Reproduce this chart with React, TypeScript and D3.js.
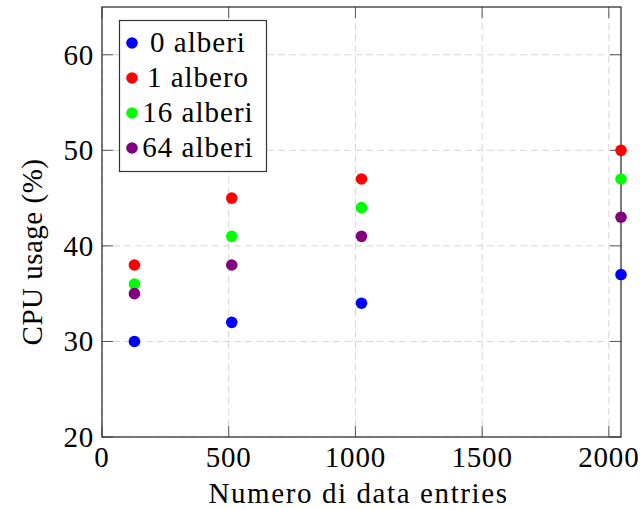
import React from 'react';
import * as d3 from 'd3';

const entries = [128, 512, 1024, 2048];
const seriesNames = ['0 alberi', '1 albero', '16 alberi', '64 alberi'];
const seriesColors = ['#0000ff', '#ff0000', '#00ff00', '#800080'];
const alberi0 = [30, 32, 34, 37];
const albero1 = [38, 45, 47, 50];
const alberi16 = [36, 41, 44, 47];
const alberi64 = [35, 38, 41, 43];
const seriesValues = [alberi0, albero1, alberi16, alberi64];
const xTicks = [0, 500, 1000, 1500, 2000];
const yTicks = [20, 30, 40, 50, 60];

const width = 640;
const height = 510;
const margin = { left: 102, right: 19, top: 7, bottom: 73 };
const fontSize = 29;
const txt = { fontFamily: "'Liberation Serif', serif", fontSize };

const x = d3.scaleLinear().domain([0, 2048]).range([margin.left, width - margin.right]);
const y = d3.scaleLinear().domain([20, 65]).range([height - margin.bottom, margin.top]);

const tickLen = 11;

const App = () => {
    const [x0, x1] = x.range();
    const [y0, y1] = y.range();
    return (
        <svg width={width} height={height} style={{ position: 'absolute', left: 0, top: 0 }}>
            <rect x={0} y={0} width={width} height={height} fill="#fff" />
            {/* grid */}
            <g stroke="#d6d6d6" strokeWidth={1} strokeDasharray="7,4">
                {xTicks.map(t => <line key={'gx' + t} x1={x(t)} x2={x(t)} y1={y0} y2={y1} />)}
                {yTicks.map(t => <line key={'gy' + t} x1={x0} x2={x1} y1={y(t)} y2={y(t)} />)}
            </g>
            {/* ticks, inside on all sides */}
            <g stroke="#555" strokeWidth={1}>
                {xTicks.map(t => <React.Fragment key={'tx' + t}>
                    <line x1={x(t)} x2={x(t)} y1={y0} y2={y0 - tickLen} />
                    <line x1={x(t)} x2={x(t)} y1={y1} y2={y1 + tickLen} />
                </React.Fragment>)}
                {yTicks.map(t => <React.Fragment key={'ty' + t}>
                    <line x1={x0} x2={x0 + tickLen} y1={y(t)} y2={y(t)} />
                    <line x1={x1} x2={x1 - tickLen} y1={y(t)} y2={y(t)} />
                </React.Fragment>)}
            </g>
            <rect x={x0} y={y1} width={x1 - x0} height={y0 - y1} fill="none" stroke="#333" strokeWidth={1.3} />
            {/* tick labels */}
            <g fill="#000">
                {xTicks.map(t => <text key={'lx' + t} style={txt} letterSpacing={0.8} x={x(t)} y={y0 + 30} textAnchor="middle">{t}</text>)}
                {yTicks.map(t => <text key={'ly' + t} style={txt} letterSpacing={0.8} x={x0 - 8} y={y(t) + 10} textAnchor="end">{t}</text>)}
            </g>
            <text style={txt} x={(x0 + x1) / 2 - 3} y={503} textAnchor="middle" letterSpacing={1.6}>Numero di data entries</text>
            <text style={txt} transform={`translate(42,${(y0 + y1) / 2 + 30}) rotate(-90)`} textAnchor="middle" letterSpacing={0.5}>CPU usage (%)</text>
            {/* points */}
            {seriesValues.map((vals, si) => (
                <g key={'s' + si} fill={seriesColors[si]}>
                    {vals.map((v, i) => <circle key={i} cx={x(entries[i])} cy={y(v)} r={5.8} />)}
                </g>
            ))}
            {/* legend */}
            <rect x={119.5} y={20.5} width={147} height={151} fill="#fff" stroke="#333" strokeWidth={1.2} />
            {seriesNames.map((name, i) => {
                const ly = 43 + i * 35;
                return (
                    <g key={'lg' + i}>
                        <circle cx={132} cy={ly} r={5.8} fill={seriesColors[i]} />
                        <text style={txt} x={198} y={ly + 9} textAnchor="middle" letterSpacing={1}>{name}</text>
                    </g>
                );
            })}
        </svg>
    );
};

export default App;
